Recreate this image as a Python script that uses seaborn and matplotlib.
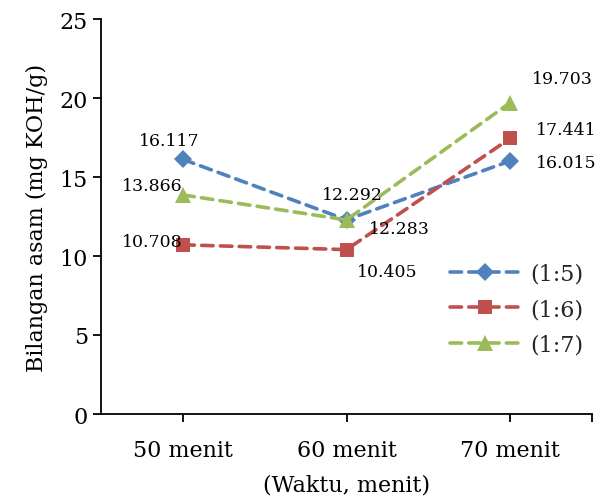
import matplotlib
matplotlib.use("Agg")
import matplotlib.pyplot as plt
import seaborn as sns
import pandas as pd

# Data
waktu = ["50 menit", "60 menit", "70 menit"]
rasio = ["(1:5)", "(1:6)", "(1:7)"]
nilai_15 = [16.117, 12.292, 16.015]
nilai_16 = [10.708, 10.405, 17.441]
nilai_17 = [13.866, 12.283, 19.703]

warna = {"(1:5)": "#4F81BD", "(1:6)": "#C0504D", "(1:7)": "#9BBB59"}
penanda = {"(1:5)": "D", "(1:6)": "s", "(1:7)": "^"}
ukuran = {"(1:5)": 9, "(1:6)": 10, "(1:7)": 11}

rows = []
for r, vals in zip(rasio, [nilai_15, nilai_16, nilai_17]):
    for i, (w, v) in enumerate(zip(waktu, vals)):
        rows.append({"pos": i, "waktu": w, "rasio": r, "nilai": v})
df = pd.DataFrame(rows)

sns.set_theme(style="white")
plt.rcParams["font.family"] = ["DejaVu Serif"]

fig = plt.figure(figsize=(6.08, 5.02), dpi=100)
ax = fig.add_axes([101 / 608, 1 - 415 / 502, (592 - 101) / 608, (415 - 20) / 502])

for r in rasio:
    sub = df[df["rasio"] == r]
    sns.lineplot(data=sub, x="pos", y="nilai", ax=ax, color=warna[r],
                 marker=penanda[r], markersize=ukuran[r], markeredgewidth=0,
                 linewidth=2.6, label=r)
for line in ax.get_lines():
    line.set_dashes((3.2, 2.0))
    line.set_dash_capstyle("round")

# Value labels (offsets in pixels from each marker)
offsets = {
    "(1:5)": [(-14, 19), (6, 25), (56, -2)],
    "(1:6)": [(-31, 3), (41, -22), (56, 9)],
    "(1:7)": [(-31, 9), (53, -9), (52, 24)],
}
for r, vals in zip(rasio, [nilai_15, nilai_16, nilai_17]):
    for i, v in enumerate(vals):
        dx, dy = offsets[r][i]
        ax.annotate(f"{v:.3f}", (i, v), xytext=(dx, dy), textcoords="offset pixels",
                    ha="center", va="center", fontsize=12.5, color="black")

ax.set_xlim(-0.5, 2.5)
ax.set_ylim(0, 25)
ax.set_yticks([0, 5, 10, 15, 20, 25])
ax.set_xticks([0, 1, 2])
ax.set_xticks([2.5], minor=True)
ax.set_xticklabels(waktu)
ax.tick_params(axis="both", which="both", direction="out", length=6, width=1.3,
               labelsize=16, colors="black", bottom=True, left=True)
ax.tick_params(axis="x", pad=12)
for s in ["top", "right"]:
    ax.spines[s].set_visible(False)
for s in ["left", "bottom"]:
    ax.spines[s].set_color("black")
    ax.spines[s].set_linewidth(1.3)

ax.set_xlabel("(Waktu, menit)", fontsize=16, color="black", labelpad=9)
ax.set_ylabel("Bilangan asam (mg KOH/g)", fontsize=16, color="black", labelpad=8)

ax.legend(loc="upper left", bbox_to_anchor=(340 / 491, 0.405), frameon=False,
          fontsize=16, handlelength=3.2, handletextpad=0.4, labelspacing=0.6,
          borderaxespad=0)

fig.savefig("out.png", dpi=100)
